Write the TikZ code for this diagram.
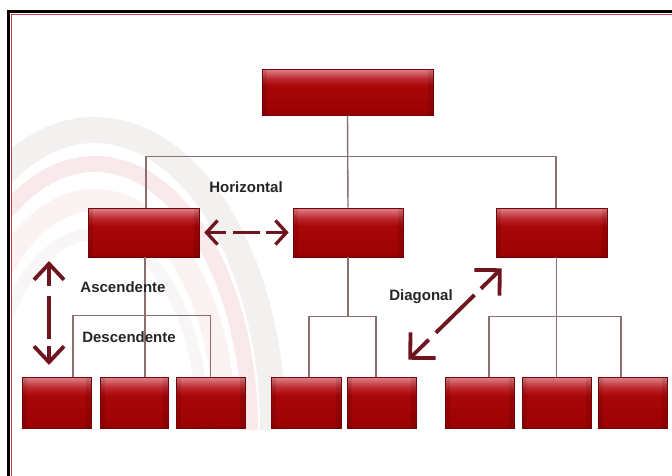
\documentclass[tikz,border=0pt]{standalone}
\usepackage{fontspec}
\setmainfont{Liberation Sans}
\usetikzlibrary{arrows.meta,calc}

% box colours, from bottom edge to top highlight
\definecolor{bxA}{HTML}{7A0000}
\definecolor{bxB}{HTML}{9C0203}
\definecolor{bxC}{HTML}{A90708}
\definecolor{bxD}{HTML}{BE2B31}
\definecolor{bxE}{HTML}{DE858B}
\definecolor{bxEdge}{HTML}{780206}
\definecolor{connc}{HTML}{8C6D70}
\definecolor{arrc}{HTML}{6E1520}
\definecolor{txtc}{HTML}{262626}
\definecolor{arcgray}{HTML}{F1EDED}
\definecolor{arcpink}{HTML}{F8E4E5}
\definecolor{framered}{HTML}{C0404A}

\pgfdeclareverticalshading{boxgloss}{100bp}{%
  color(0bp)=(bxA); color(25bp)=(bxA); color(27bp)=(bxB);
  color(57bp)=(bxC); color(65bp)=(bxD); color(75bp)=(bxE); color(100bp)=(bxE)}

\tikzset{
  orgbox/.style 2 args={rectangle, inner sep=0pt, minimum width=#1, minimum height=#2,
    shading=boxgloss, draw=bxEdge, line width=0.6pt,
    path picture={
      \fill[black, opacity=0.10] (path picture bounding box.south west)
        rectangle ([xshift=5pt]path picture bounding box.north west);
      \fill[black, opacity=0.10] (path picture bounding box.south east)
        rectangle ([xshift=-5pt]path picture bounding box.north east);
    }},
  conn/.style={draw=connc, line width=1.4pt},
  arrowline/.style={draw=arrc, line cap=butt},
  lbl/.style={font=\fontsize{15}{18}\selectfont\bfseries, text=txtc, inner sep=0pt},
  swirl/.style={line width=#1, opacity=0.8},
}

\begin{document}
\begin{tikzpicture}[x=1pt, y=-1pt]
\useasboundingbox (0,0) rectangle (672,475);
\fill[white] (0,0) rectangle (672,475);

% faint swirl in the background
\begin{scope}
  \clip (11,14) rectangle (672,475);
  \draw[arcgray, swirl=26pt] (95,430) ++(-175:178 and 300) arc[start angle=-175, end angle=0, x radius=178, y radius=300];
  \draw[arcpink, swirl=16pt] (95,430) ++(-175:155 and 266) arc[start angle=-175, end angle=0, x radius=155, y radius=266];
  \draw[arcpink!60!white, swirl=22pt] (95,430) ++(-175:130 and 230) arc[start angle=-175, end angle=0, x radius=130, y radius=230];
  \draw[arcgray!60!white, swirl=12pt] (95,430) ++(-175:108 and 196) arc[start angle=-175, end angle=0, x radius=108, y radius=196];
\end{scope}

% frame
\draw[framered, line width=1pt] (11,480) -- (11,14) -- (680,14);
\draw[black, line width=3pt] (8,480) -- (8,11) -- (680,11);

% boxes
\node[orgbox={171pt}{46pt}] (top) at (347.5,92) {};
\node[orgbox={111pt}{49pt}] (m1) at (143.5,232.5) {};
\node[orgbox={110pt}{49pt}] (m2) at (348,232.5) {};
\node[orgbox={111pt}{49pt}] (m3) at (551.5,232.5) {};
\node[orgbox={69pt}{51pt}] (b1) at (56.5,402.5) {};
\node[orgbox={68pt}{51pt}] (b2) at (134,402.5) {};
\node[orgbox={69pt}{51pt}] (b3) at (210.5,402.5) {};
\node[orgbox={70pt}{51pt}] (b4) at (306,402.5) {};
\node[orgbox={69pt}{51pt}] (b5) at (381.5,402.5) {};
\node[orgbox={69pt}{51pt}] (b6) at (479.5,402.5) {};
\node[orgbox={69pt}{51pt}] (b7) at (556.5,402.5) {};
\node[orgbox={69pt}{51pt}] (b8) at (632.5,402.5) {};

% tree lines
\draw[conn] (top.south) -- (m2.north);
\draw[conn] ([xshift=2.5pt]m1.north) -- ++(0,-51) -| ([xshift=4.5pt]m3.north);
\draw[conn] ([xshift=1.5pt]m1.south) -- ([xshift=1.5pt]m1.south |- b2.north);
\draw[conn] ([xshift=16.5pt]b1.north) -- ++(0,-61) -| (b3.north);
\draw[conn] (m2.south) -- ++(0,60);
\draw[conn] ([xshift=3pt]b4.north) -- ++(0,-60) -| ([xshift=-5.5pt]b5.north);
\draw[conn] ([xshift=5pt]m3.south) -- ([xshift=5pt]m3.south |- b7.north);
\draw[conn] ([xshift=9.5pt]b6.north) -- ++(0,-60) -| ([xshift=-11.5pt]b8.north);

% communication arrows
\coordinate (va) at (49,261);
\coordinate (vb) at (49,365);
\coordinate (da) at ([shift={(-8,-17)}]b5.north east);
\coordinate (db) at ([shift={(6,11)}]m3.south west);

\draw[arrowline, line width=3.3pt, dash pattern=on 18pt off 7pt on 27pt off 6pt on 40pt,
  {Straight Barb[length=11pt,width=24pt]}-{Straight Barb[length=11pt,width=24pt]}]
  ([xshift=5pt]m1.east) -- ([xshift=-4pt]m2.west);
\draw[arrowline, line width=3.8pt, dash pattern=on 20pt off 10pt on 43pt off 7pt on 40pt,
  {Straight Barb[length=16pt,width=30pt]}-{Straight Barb[length=16pt,width=30pt]}]
  (va) -- (vb);
\draw[arrowline, line width=3.8pt, dash pattern=on 24pt off 10pt on 54pt off 9pt on 60pt,
  {Straight Barb[length=18pt,width=36pt]}-{Straight Barb[length=18pt,width=36pt]}]
  (da) -- (db);

% labels
\node[lbl] (lh) at (246,187) {Horizontal};
\node[lbl] (la) at (123,287) {Ascendente};
\node[lbl] (ld) at (129,337) {Descendente};
\node[lbl] (ldg) at (421,297) {Diagonal};
\end{tikzpicture}
\end{document}
